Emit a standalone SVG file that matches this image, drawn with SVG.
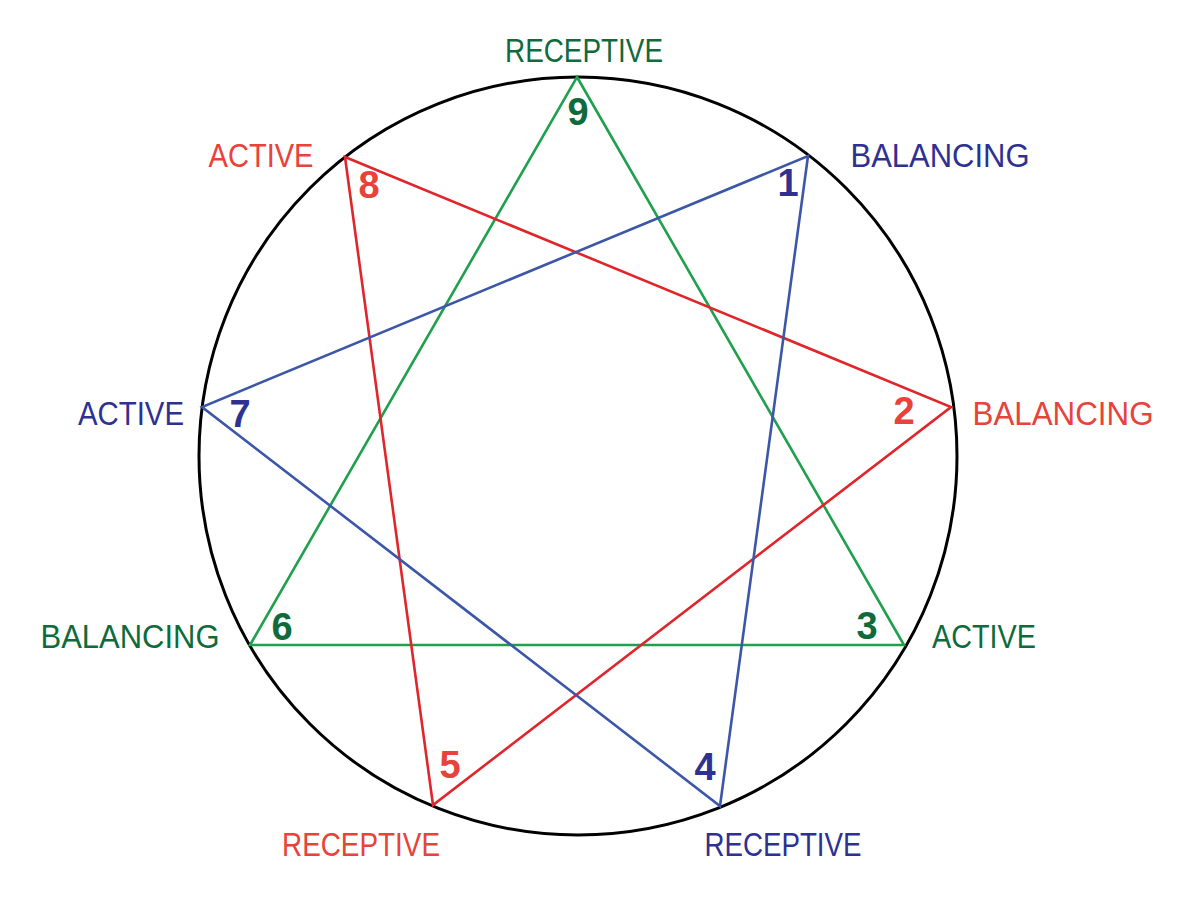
<svg xmlns="http://www.w3.org/2000/svg" width="1200" height="920" viewBox="0 0 1200 920">
<style>
.lbl{font-family:"Liberation Sans",Arial,sans-serif;font-size:33px;text-anchor:middle}
.num{font-family:"Liberation Sans",Arial,sans-serif;font-size:38px;font-weight:bold;text-anchor:middle}
.g{fill:#0f6b3b}.r{fill:#e8423a}.b{fill:#2e3192}
.lg{stroke:#1fa04c}.lr{stroke:#e0252b}.lb{stroke:#3d57a8}
</style>
<rect width="1200" height="920" fill="#ffffff"/>
<circle cx="578" cy="456" r="379" fill="none" stroke="#000" stroke-width="3"/>
<g id="connectors" fill="none" stroke-width="2.6" stroke-linejoin="miter">
<polygon class="lg" points="577,77 904,645 250,645"/>
<polygon class="lr" points="345,157 951,407 433,805"/>
<polygon class="lb" points="808,156 720,806 202,407"/>
</g>
<g id="n9"><text class="lbl g" x="584" y="62" textLength="158" lengthAdjust="spacingAndGlyphs">RECEPTIVE</text><text class="num g" x="578" y="125">9</text></g>
<g id="n8"><text class="lbl r" x="261" y="167" textLength="105" lengthAdjust="spacingAndGlyphs">ACTIVE</text><text class="num r" x="369" y="198">8</text></g>
<g id="n1"><text class="lbl b" x="940" y="167" textLength="179" lengthAdjust="spacingAndGlyphs">BALANCING</text><text class="num b" x="788" y="196">1</text></g>
<g id="n7"><text class="lbl b" x="131" y="425" textLength="106" lengthAdjust="spacingAndGlyphs">ACTIVE</text><text class="num b" x="240" y="427">7</text></g>
<g id="n2"><text class="lbl r" x="1063" y="425" textLength="181" lengthAdjust="spacingAndGlyphs">BALANCING</text><text class="num r" x="904" y="424">2</text></g>
<g id="n6"><text class="lbl g" x="130" y="648" textLength="179" lengthAdjust="spacingAndGlyphs">BALANCING</text><text class="num g" x="282" y="640">6</text></g>
<g id="n3"><text class="lbl g" x="984" y="648" textLength="104" lengthAdjust="spacingAndGlyphs">ACTIVE</text><text class="num g" x="867" y="639">3</text></g>
<g id="n5"><text class="lbl r" x="361" y="856" textLength="158" lengthAdjust="spacingAndGlyphs">RECEPTIVE</text><text class="num r" x="450" y="778">5</text></g>
<g id="n4"><text class="lbl b" x="783" y="856" textLength="157" lengthAdjust="spacingAndGlyphs">RECEPTIVE</text><text class="num b" x="705" y="780">4</text></g>
</svg>
